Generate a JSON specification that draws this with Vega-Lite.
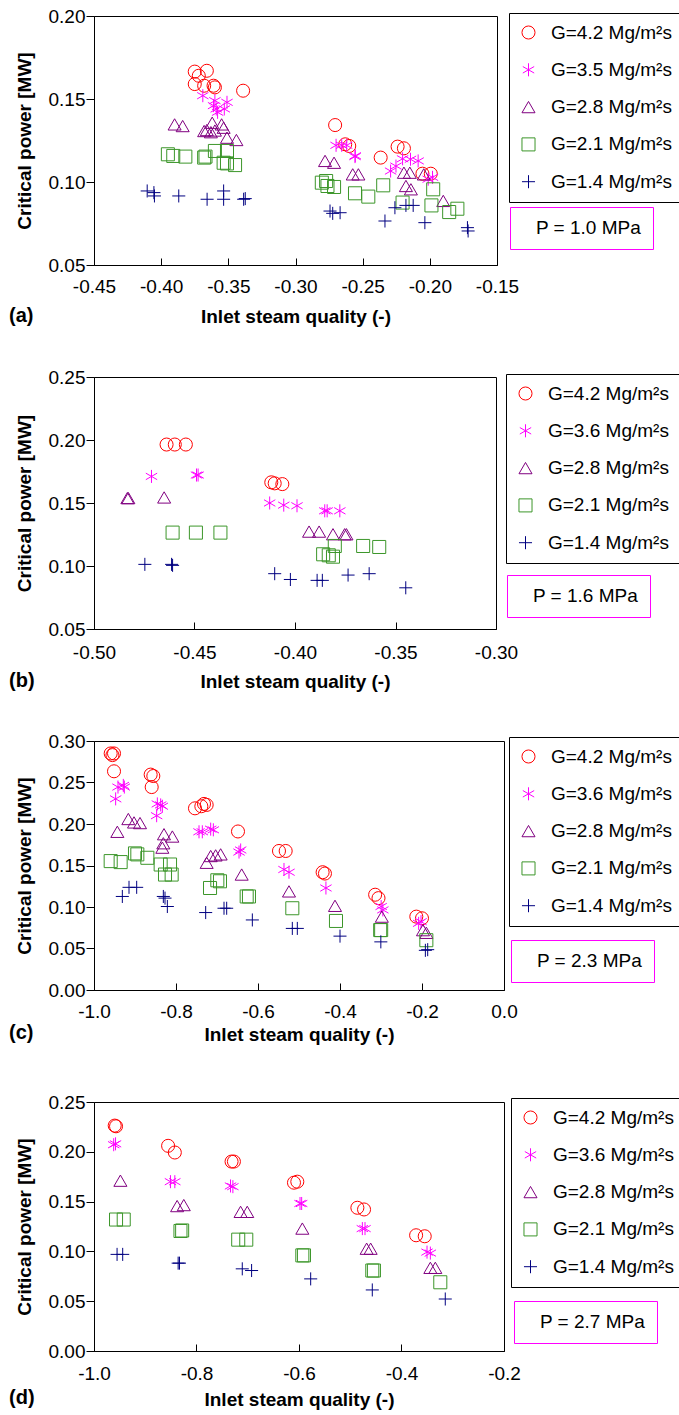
{
  "$schema": "https://vega.github.io/schema/vega-lite/v6.json",
  "padding": {"left": 8, "top": 6, "right": 0, "bottom": 4},
  "bounds": "flush",
  "spacing": 112,
  "resolve": {
    "scale": {"x": "independent", "y": "independent", "color": "independent", "shape": "independent", "opacity": "independent"},
    "legend": {"color": "independent", "shape": "independent", "opacity": "independent"}
  },
  "datasets": {
    "a": [
      {"G":"4.2","x":-0.375,"cp":0.1665},{"G":"4.2","x":-0.372,"cp":0.164},{"G":"4.2","x":-0.366,"cp":0.167},{"G":"4.2","x":-0.375,"cp":0.159},{"G":"4.2","x":-0.368,"cp":0.158},{"G":"4.2","x":-0.361,"cp":0.158},{"G":"4.2","x":-0.36,"cp":0.157},{"G":"4.2","x":-0.339,"cp":0.155},{"G":"4.2","x":-0.2705,"cp":0.1343},{"G":"4.2","x":-0.263,"cp":0.1227},{"G":"4.2","x":-0.26,"cp":0.1217},{"G":"4.2","x":-0.2366,"cp":0.1147},{"G":"4.2","x":-0.224,"cp":0.1213},{"G":"4.2","x":-0.2193,"cp":0.1203},{"G":"4.2","x":-0.2055,"cp":0.105},{"G":"4.2","x":-0.1993,"cp":0.105},
      {"G":"3.5","x":-0.369,"cp":0.152},{"G":"3.5","x":-0.36,"cp":0.149},{"G":"3.5","x":-0.359,"cp":0.144},{"G":"3.5","x":-0.361,"cp":0.146},{"G":"3.5","x":-0.358,"cp":0.142},{"G":"3.5","x":-0.351,"cp":0.148},{"G":"3.5","x":-0.353,"cp":0.144},{"G":"3.5","x":-0.2698,"cp":0.1221},{"G":"3.5","x":-0.2656,"cp":0.1221},{"G":"3.5","x":-0.2619,"cp":0.1221},{"G":"3.5","x":-0.2557,"cp":0.1153},{"G":"3.5","x":-0.2555,"cp":0.1158},{"G":"3.5","x":-0.2292,"cp":0.1066},{"G":"3.5","x":-0.2252,"cp":0.1096},{"G":"3.5","x":-0.2203,"cp":0.114},{"G":"3.5","x":-0.2144,"cp":0.1137},{"G":"3.5","x":-0.2087,"cp":0.1127},{"G":"3.5","x":-0.2012,"cp":0.1017},{"G":"3.5","x":-0.198,"cp":0.1028},
      {"G":"2.8","x":-0.39,"cp":0.1347},{"G":"2.8","x":-0.384,"cp":0.1337},{"G":"2.8","x":-0.368,"cp":0.1307},{"G":"2.8","x":-0.366,"cp":0.1313},{"G":"2.8","x":-0.363,"cp":0.13},{"G":"2.8","x":-0.36,"cp":0.131},{"G":"2.8","x":-0.362,"cp":0.1357},{"G":"2.8","x":-0.355,"cp":0.1347},{"G":"2.8","x":-0.3535,"cp":0.1327},{"G":"2.8","x":-0.351,"cp":0.1267},{"G":"2.8","x":-0.344,"cp":0.1253},{"G":"2.8","x":-0.278,"cp":0.1127},{"G":"2.8","x":-0.2713,"cp":0.1116},{"G":"2.8","x":-0.2574,"cp":0.1046},{"G":"2.8","x":-0.2532,"cp":0.1046},{"G":"2.8","x":-0.2193,"cp":0.1056},{"G":"2.8","x":-0.2149,"cp":0.1056},{"G":"2.8","x":-0.2178,"cp":0.0976},{"G":"2.8","x":-0.2141,"cp":0.0956},{"G":"2.8","x":-0.19,"cp":0.0886},{"G":"2.8","x":-0.2045,"cp":0.1046},
      {"G":"2.1","x":-0.395,"cp":0.1167},{"G":"2.1","x":-0.391,"cp":0.1157},{"G":"2.1","x":-0.382,"cp":0.1153},{"G":"2.1","x":-0.368,"cp":0.1147},{"G":"2.1","x":-0.367,"cp":0.1153},{"G":"2.1","x":-0.36,"cp":0.1187},{"G":"2.1","x":-0.351,"cp":0.1187},{"G":"2.1","x":-0.3535,"cp":0.1116},{"G":"2.1","x":-0.351,"cp":0.1112},{"G":"2.1","x":-0.345,"cp":0.1102},{"G":"2.1","x":-0.2804,"cp":0.0996},{"G":"2.1","x":-0.2772,"cp":0.1006},{"G":"2.1","x":-0.2762,"cp":0.0976},{"G":"2.1","x":-0.2713,"cp":0.097},{"G":"2.1","x":-0.2557,"cp":0.0932},{"G":"2.1","x":-0.2458,"cp":0.0912},{"G":"2.1","x":-0.2347,"cp":0.098},{"G":"2.1","x":-0.2203,"cp":0.0876},{"G":"2.1","x":-0.1988,"cp":0.0859},{"G":"2.1","x":-0.1975,"cp":0.0956},{"G":"2.1","x":-0.1856,"cp":0.0819},{"G":"2.1","x":-0.1795,"cp":0.0839},
      {"G":"1.4","x":-0.4104,"cp":0.0946},{"G":"1.4","x":-0.4054,"cp":0.0936},{"G":"1.4","x":-0.405,"cp":0.0916},{"G":"1.4","x":-0.3869,"cp":0.0916},{"G":"1.4","x":-0.3658,"cp":0.0896},{"G":"1.4","x":-0.3535,"cp":0.0946},{"G":"1.4","x":-0.3535,"cp":0.0896},{"G":"1.4","x":-0.3386,"cp":0.0896},{"G":"1.4","x":-0.3374,"cp":0.09},{"G":"1.4","x":-0.2743,"cp":0.0825},{"G":"1.4","x":-0.2723,"cp":0.0811},{"G":"1.4","x":-0.2668,"cp":0.0815},{"G":"1.4","x":-0.2334,"cp":0.0765},{"G":"1.4","x":-0.226,"cp":0.0845},{"G":"1.4","x":-0.2178,"cp":0.0859},{"G":"1.4","x":-0.2124,"cp":0.0859},{"G":"1.4","x":-0.2037,"cp":0.0755},{"G":"1.4","x":-0.172,"cp":0.0725},{"G":"1.4","x":-0.1715,"cp":0.0705}
    ],
    "b": [
      {"G":"4.2","x":-0.4639,"cp":0.1964},{"G":"4.2","x":-0.4598,"cp":0.1964},{"G":"4.2","x":-0.4543,"cp":0.1964},{"G":"4.2","x":-0.4118,"cp":0.1664},{"G":"4.2","x":-0.4101,"cp":0.1656},{"G":"4.2","x":-0.4063,"cp":0.165},
      {"G":"3.6","x":-0.4714,"cp":0.1711},{"G":"3.6","x":-0.449,"cp":0.1722},{"G":"3.6","x":-0.4482,"cp":0.1722},{"G":"3.6","x":-0.4126,"cp":0.15},{"G":"3.6","x":-0.4056,"cp":0.1483},{"G":"3.6","x":-0.399,"cp":0.1478},{"G":"3.6","x":-0.3852,"cp":0.1438},{"G":"3.6","x":-0.384,"cp":0.1438},{"G":"3.6","x":-0.3777,"cp":0.1438},
      {"G":"2.8","x":-0.4834,"cp":0.1539},{"G":"2.8","x":-0.4829,"cp":0.1539},{"G":"2.8","x":-0.4651,"cp":0.1544},{"G":"2.8","x":-0.393,"cp":0.1273},{"G":"2.8","x":-0.388,"cp":0.1273},{"G":"2.8","x":-0.3811,"cp":0.1252},{"G":"2.8","x":-0.3744,"cp":0.1252},{"G":"2.8","x":-0.3753,"cp":0.1252},
      {"G":"2.1","x":-0.4609,"cp":0.1265},{"G":"2.1","x":-0.4493,"cp":0.1265},{"G":"2.1","x":-0.4371,"cp":0.1265},{"G":"2.1","x":-0.386,"cp":0.1093},{"G":"2.1","x":-0.3832,"cp":0.1085},{"G":"2.1","x":-0.3811,"cp":0.1074},{"G":"2.1","x":-0.3802,"cp":0.1159},{"G":"2.1","x":-0.3661,"cp":0.1159},{"G":"2.1","x":-0.3581,"cp":0.1151},
      {"G":"1.4","x":-0.4747,"cp":0.1013},{"G":"1.4","x":-0.4614,"cp":0.1013},{"G":"1.4","x":-0.4609,"cp":0.1005},{"G":"1.4","x":-0.4101,"cp":0.0939},{"G":"1.4","x":-0.4023,"cp":0.0893},{"G":"1.4","x":-0.389,"cp":0.0886},{"G":"1.4","x":-0.3864,"cp":0.0886},{"G":"1.4","x":-0.3736,"cp":0.0928},{"G":"1.4","x":-0.3631,"cp":0.0939},{"G":"1.4","x":-0.3449,"cp":0.0827}
    ],
    "c": [
      {"G":"4.2","x":-0.9593,"cp":0.285},{"G":"4.2","x":-0.9512,"cp":0.285},{"G":"4.2","x":-0.955,"cp":0.283},{"G":"4.2","x":-0.9512,"cp":0.2635},{"G":"4.2","x":-0.8618,"cp":0.2595},{"G":"4.2","x":-0.8553,"cp":0.2578},{"G":"4.2","x":-0.8593,"cp":0.2445},{"G":"4.2","x":-0.7537,"cp":0.2189},{"G":"4.2","x":-0.7382,"cp":0.2214},{"G":"4.2","x":-0.7317,"cp":0.2242},{"G":"4.2","x":-0.7252,"cp":0.223},{"G":"4.2","x":-0.6488,"cp":0.191},{"G":"4.2","x":-0.5488,"cp":0.1675},{"G":"4.2","x":-0.5325,"cp":0.1675},{"G":"4.2","x":-0.4424,"cp":0.1419},{"G":"4.2","x":-0.4367,"cp":0.1403},{"G":"4.2","x":-0.3143,"cp":0.1148},{"G":"4.2","x":-0.3061,"cp":0.1107},{"G":"4.2","x":-0.2139,"cp":0.0884},{"G":"4.2","x":-0.2,"cp":0.0864},
      {"G":"3.6","x":-0.9472,"cp":0.2303},{"G":"3.6","x":-0.9415,"cp":0.2445},{"G":"3.6","x":-0.9285,"cp":0.2465},{"G":"3.6","x":-0.926,"cp":0.2445},{"G":"3.6","x":-0.8455,"cp":0.2242},{"G":"3.6","x":-0.8374,"cp":0.223},{"G":"3.6","x":-0.8472,"cp":0.21},{"G":"3.6","x":-0.8333,"cp":0.2214},{"G":"3.6","x":-0.7439,"cp":0.1906},{"G":"3.6","x":-0.7358,"cp":0.1906},{"G":"3.6","x":-0.7154,"cp":0.1938},{"G":"3.6","x":-0.7089,"cp":0.193},{"G":"3.6","x":-0.6423,"cp":0.1687},{"G":"3.6","x":-0.6463,"cp":0.1662},{"G":"3.6","x":-0.5366,"cp":0.1452},{"G":"3.6","x":-0.5244,"cp":0.1419},{"G":"3.6","x":-0.4343,"cp":0.1229},{"G":"3.6","x":-0.2996,"cp":0.1006},{"G":"3.6","x":-0.2955,"cp":0.0965},{"G":"3.6","x":-0.2082,"cp":0.0803},{"G":"3.6","x":-0.2024,"cp":0.0823},
      {"G":"2.8","x":-0.9431,"cp":0.1906},{"G":"2.8","x":-0.9163,"cp":0.206},{"G":"2.8","x":-0.9024,"cp":0.2019},{"G":"2.8","x":-0.8878,"cp":0.2011},{"G":"2.8","x":-0.8293,"cp":0.1877},{"G":"2.8","x":-0.8089,"cp":0.1849},{"G":"2.8","x":-0.8333,"cp":0.1715},{"G":"2.8","x":-0.8309,"cp":0.1768},{"G":"2.8","x":-0.7252,"cp":0.1533},{"G":"2.8","x":-0.7154,"cp":0.1614},{"G":"2.8","x":-0.7033,"cp":0.1622},{"G":"2.8","x":-0.6911,"cp":0.1634},{"G":"2.8","x":-0.6398,"cp":0.1391},{"G":"2.8","x":-0.5244,"cp":0.1188},{"G":"2.8","x":-0.4122,"cp":0.1014},{"G":"2.8","x":-0.298,"cp":0.0884},{"G":"2.8","x":-0.1976,"cp":0.0721},{"G":"2.8","x":-0.1894,"cp":0.0689},
      {"G":"2.1","x":-0.9593,"cp":0.1553},{"G":"2.1","x":-0.935,"cp":0.1541},{"G":"2.1","x":-0.9,"cp":0.1646},{"G":"2.1","x":-0.8943,"cp":0.1634},{"G":"2.1","x":-0.8699,"cp":0.1593},{"G":"2.1","x":-0.8374,"cp":0.1512},{"G":"2.1","x":-0.8146,"cp":0.1512},{"G":"2.1","x":-0.8268,"cp":0.1391},{"G":"2.1","x":-0.8106,"cp":0.1391},{"G":"2.1","x":-0.717,"cp":0.1229},{"G":"2.1","x":-0.6992,"cp":0.1322},{"G":"2.1","x":-0.6927,"cp":0.131},{"G":"2.1","x":-0.6276,"cp":0.1127},{"G":"2.1","x":-0.622,"cp":0.1127},{"G":"2.1","x":-0.5163,"cp":0.0985},{"G":"2.1","x":-0.4098,"cp":0.0832},{"G":"2.1","x":-0.302,"cp":0.0722},{"G":"2.1","x":-0.2996,"cp":0.0722},{"G":"2.1","x":-0.1894,"cp":0.06},
      {"G":"1.4","x":-0.9309,"cp":0.1127},{"G":"1.4","x":-0.9146,"cp":0.1237},{"G":"1.4","x":-0.8959,"cp":0.1237},{"G":"1.4","x":-0.8309,"cp":0.1127},{"G":"1.4","x":-0.8211,"cp":0.1006},{"G":"1.4","x":-0.8268,"cp":0.1107},{"G":"1.4","x":-0.7276,"cp":0.0933},{"G":"1.4","x":-0.6829,"cp":0.0985},{"G":"1.4","x":-0.6764,"cp":0.0985},{"G":"1.4","x":-0.6138,"cp":0.0844},{"G":"1.4","x":-0.5163,"cp":0.0742},{"G":"1.4","x":-0.5041,"cp":0.0742},{"G":"1.4","x":-0.4,"cp":0.0649},{"G":"1.4","x":-0.3004,"cp":0.058},{"G":"1.4","x":-0.1918,"cp":0.0478},{"G":"1.4","x":-0.1861,"cp":0.0486}
    ],
    "d": [
      {"G":"4.2","x":-0.9596,"cp":0.2263},{"G":"4.2","x":-0.957,"cp":0.2256},{"G":"4.2","x":-0.8554,"cp":0.206},{"G":"4.2","x":-0.8423,"cp":0.1993},{"G":"4.2","x":-0.7316,"cp":0.1902},{"G":"4.2","x":-0.727,"cp":0.1902},{"G":"4.2","x":-0.6098,"cp":0.169},{"G":"4.2","x":-0.6033,"cp":0.17},{"G":"4.2","x":-0.4861,"cp":0.1438},{"G":"4.2","x":-0.4731,"cp":0.1421},{"G":"4.2","x":-0.3715,"cp":0.1162},{"G":"4.2","x":-0.3547,"cp":0.1152},
      {"G":"3.6","x":-0.9616,"cp":0.2071},{"G":"3.6","x":-0.958,"cp":0.208},{"G":"3.6","x":-0.8508,"cp":0.17},{"G":"3.6","x":-0.8423,"cp":0.17},{"G":"3.6","x":-0.7336,"cp":0.1657},{"G":"3.6","x":-0.729,"cp":0.165},{"G":"3.6","x":-0.5948,"cp":0.1481},{"G":"3.6","x":-0.598,"cp":0.1481},{"G":"3.6","x":-0.4764,"cp":0.1229},{"G":"3.6","x":-0.4712,"cp":0.1229},{"G":"3.6","x":-0.3502,"cp":0.0993},{"G":"3.6","x":-0.3437,"cp":0.0983},
      {"G":"2.8","x":-0.9485,"cp":0.171},{"G":"2.8","x":-0.8378,"cp":0.1455},{"G":"2.8","x":-0.8248,"cp":0.1465},{"G":"2.8","x":-0.714,"cp":0.1397},{"G":"2.8","x":-0.701,"cp":0.1397},{"G":"2.8","x":-0.5935,"cp":0.1229},{"G":"2.8","x":-0.468,"cp":0.1027},{"G":"2.8","x":-0.4602,"cp":0.1027},{"G":"2.8","x":-0.3437,"cp":0.0835},{"G":"2.8","x":-0.334,"cp":0.0835},
      {"G":"2.1","x":-0.957,"cp":0.132},{"G":"2.1","x":-0.942,"cp":0.132},{"G":"2.1","x":-0.8313,"cp":0.1205},{"G":"2.1","x":-0.828,"cp":0.121},{"G":"2.1","x":-0.7186,"cp":0.1118},{"G":"2.1","x":-0.7029,"cp":0.1118},{"G":"2.1","x":-0.5935,"cp":0.096},{"G":"2.1","x":-0.5903,"cp":0.096},{"G":"2.1","x":-0.457,"cp":0.0808},{"G":"2.1","x":-0.4538,"cp":0.0808},{"G":"2.1","x":-0.3243,"cp":0.069},
      {"G":"1.4","x":-0.955,"cp":0.097},{"G":"1.4","x":-0.944,"cp":0.097},{"G":"1.4","x":-0.8358,"cp":0.0882},{"G":"1.4","x":-0.8332,"cp":0.0882},{"G":"1.4","x":-0.7107,"cp":0.0825},{"G":"1.4","x":-0.6925,"cp":0.0808},{"G":"1.4","x":-0.5772,"cp":0.0724},{"G":"1.4","x":-0.457,"cp":0.0613},{"G":"1.4","x":-0.3146,"cp":0.0522}
    ],
    "pa": [{"P": "P = 1.0 MPa"}],
    "pb": [{"P": "P = 1.6 MPa"}],
    "pc": [{"P": "P = 2.3 MPa"}],
    "pd": [{"P": "P = 2.7 MPa"}]
  },
  "vconcat": [
    {
      "width": 403, "height": 249,
      "title": {"text": "(a)", "orient": "bottom", "anchor": "start", "frame": "bounds", "offset": -21, "dx": -6},
      "layer": [
        {
          "data": {"name": "a"},
          "mark": {"type": "point", "filled": false, "size": 170, "strokeWidth": 1, "opacity": 1},
          "encoding": {
            "x": {"field": "x", "type": "quantitative", "scale": {"domain": [-0.45, -0.15], "nice": false, "zero": false},
                  "axis": {"values": [-0.45, -0.4, -0.35, -0.3, -0.25, -0.2, -0.15], "format": ".2f", "title": "Inlet steam quality (-)", "titlePadding": 11}},
            "y": {"field": "cp", "type": "quantitative", "scale": {"domain": [0.05, 0.2], "nice": false, "zero": false},
                  "axis": {"values": [0.05, 0.1, 0.15, 0.2], "format": ".2f", "title": "Critical power [MW]"}},
            "color": {"field": "G", "type": "nominal",
                      "scale": {"domain": ["4.2", "3.5", "2.8", "2.1", "1.4"], "range": ["#ff0000", "#ff00ff", "#800080", "#3c962a", "#000080"]},
                      "legend": {"title": null, "orient": "none", "legendX": 415, "legendY": -3, "labelExpr": "'G=' + datum.label + ' Mg/m²s'"}},
            "shape": {"field": "G", "type": "nominal",
                      "scale": {"domain": ["4.2", "3.5", "2.8", "2.1", "1.4"], "range": ["circle", "M0,-1L0,1M-0.87,-0.5L0.87,0.5M-0.87,0.5L0.87,-0.5", "triangle-up", "square", "M-1,0L1,0M0,-1L0,1"]}}
          }
        },
        {
          "data": {"name": "pa"},
          "mark": {"type": "point", "size": 0, "strokeWidth": 0, "filled": false},
          "encoding": {
            "opacity": {"field": "P", "type": "nominal", "scale": {"range": [1]},
                        "legend": {"title": null, "orient": "none", "legendX": 416, "legendY": 191, "strokeColor": "#ff00ff", "padding": 11, "symbolSize": 0.5, "symbolOpacity": 0, "symbolStrokeWidth": 0, "labelOffset": -4, "labelExpr": "datum.label + '\u2002'"}}
          }
        }
      ]
    },
    {
      "width": 402, "height": 252,
      "title": {"text": "(b)", "orient": "bottom", "anchor": "start", "frame": "bounds", "offset": -21, "dx": -6},
      "layer": [
        {
          "data": {"name": "b"},
          "mark": {"type": "point", "filled": false, "size": 170, "strokeWidth": 1, "opacity": 1},
          "encoding": {
            "x": {"field": "x", "type": "quantitative", "scale": {"domain": [-0.5, -0.3], "nice": false, "zero": false},
                  "axis": {"values": [-0.5, -0.45, -0.4, -0.35, -0.3], "format": ".2f", "title": "Inlet steam quality (-)", "titlePadding": 10.6, "labelPadding": 21.3}},
            "y": {"field": "cp", "type": "quantitative", "scale": {"domain": [0.05, 0.25], "nice": false, "zero": false},
                  "axis": {"values": [0.05, 0.1, 0.15, 0.2, 0.25], "format": ".2f", "title": "Critical power [MW]"}},
            "color": {"field": "G", "type": "nominal",
                      "scale": {"domain": ["4.2", "3.6", "2.8", "2.1", "1.4"], "range": ["#ff0000", "#ff00ff", "#800080", "#3c962a", "#000080"]},
                      "legend": {"title": null, "orient": "none", "legendX": 412, "legendY": -3, "labelExpr": "'G=' + datum.label + ' Mg/m²s'"}},
            "shape": {"field": "G", "type": "nominal",
                      "scale": {"domain": ["4.2", "3.6", "2.8", "2.1", "1.4"], "range": ["circle", "M0,-1L0,1M-0.87,-0.5L0.87,0.5M-0.87,0.5L0.87,-0.5", "triangle-up", "square", "M-1,0L1,0M0,-1L0,1"]}}
          }
        },
        {
          "data": {"name": "pb"},
          "mark": {"type": "point", "size": 0, "strokeWidth": 0, "filled": false},
          "encoding": {
            "opacity": {"field": "P", "type": "nominal", "scale": {"range": [1]},
                        "legend": {"title": null, "orient": "none", "legendX": 413, "legendY": 198, "strokeColor": "#ff00ff", "padding": 11, "symbolSize": 0.5, "symbolOpacity": 0, "symbolStrokeWidth": 0, "labelOffset": -4, "labelExpr": "datum.label + '\u2002'"}}
          }
        }
      ]
    },
    {
      "width": 410, "height": 249,
      "title": {"text": "(c)", "orient": "bottom", "anchor": "start", "frame": "bounds", "offset": -21, "dx": -6},
      "layer": [
        {
          "data": {"name": "c"},
          "mark": {"type": "point", "filled": false, "size": 170, "strokeWidth": 1, "opacity": 1},
          "encoding": {
            "x": {"field": "x", "type": "quantitative", "scale": {"domain": [-1, 0], "nice": false, "zero": false},
                  "axis": {"values": [-1, -0.8, -0.6, -0.4, -0.2, 0], "format": ".1f", "title": "Inlet steam quality (-)", "titlePadding": 3.6}},
            "y": {"field": "cp", "type": "quantitative", "scale": {"domain": [0, 0.3], "nice": false, "zero": false},
                  "axis": {"values": [0, 0.05, 0.1, 0.15, 0.2, 0.25, 0.3], "format": ".2f", "title": "Critical power [MW]"}},
            "color": {"field": "G", "type": "nominal",
                      "scale": {"domain": ["4.2", "3.6", "2.8", "2.1", "1.4"], "range": ["#ff0000", "#ff00ff", "#800080", "#3c962a", "#000080"]},
                      "legend": {"title": null, "orient": "none", "legendX": 415, "legendY": -4, "labelExpr": "'G=' + datum.label + ' Mg/m²s'"}},
            "shape": {"field": "G", "type": "nominal",
                      "scale": {"domain": ["4.2", "3.6", "2.8", "2.1", "1.4"], "range": ["circle", "M0,-1L0,1M-0.87,-0.5L0.87,0.5M-0.87,0.5L0.87,-0.5", "triangle-up", "square", "M-1,0L1,0M0,-1L0,1"]}}
          }
        },
        {
          "data": {"name": "pc"},
          "mark": {"type": "point", "size": 0, "strokeWidth": 0, "filled": false},
          "encoding": {
            "opacity": {"field": "P", "type": "nominal", "scale": {"range": [1]},
                        "legend": {"title": null, "orient": "none", "legendX": 417, "legendY": 199, "strokeColor": "#ff00ff", "padding": 11, "symbolSize": 0.5, "symbolOpacity": 0, "symbolStrokeWidth": 0, "labelOffset": -4, "labelExpr": "datum.label + '\u2002'"}}
          }
        }
      ]
    },
    {
      "width": 410, "height": 249,
      "title": {"text": "(d)", "orient": "bottom", "anchor": "start", "frame": "bounds", "offset": -21, "dx": -6},
      "layer": [
        {
          "data": {"name": "d"},
          "mark": {"type": "point", "filled": false, "size": 170, "strokeWidth": 1, "opacity": 1},
          "encoding": {
            "x": {"field": "x", "type": "quantitative", "scale": {"domain": [-1, -0.2], "nice": false, "zero": false},
                  "axis": {"values": [-1, -0.8, -0.6, -0.4, -0.2], "format": ".1f", "title": "Inlet steam quality (-)", "titlePadding": 6.6, "labelPadding": 20.6}},
            "y": {"field": "cp", "type": "quantitative", "scale": {"domain": [0, 0.25], "nice": false, "zero": false},
                  "axis": {"values": [0, 0.05, 0.1, 0.15, 0.2, 0.25], "format": ".2f", "title": "Critical power [MW]"}},
            "color": {"field": "G", "type": "nominal",
                      "scale": {"domain": ["4.2", "3.6", "2.8", "2.1", "1.4"], "range": ["#ff0000", "#ff00ff", "#800080", "#3c962a", "#000080"]},
                      "legend": {"title": null, "orient": "none", "legendX": 417, "legendY": -4, "labelExpr": "'G=' + datum.label + ' Mg/m²s'"}},
            "shape": {"field": "G", "type": "nominal",
                      "scale": {"domain": ["4.2", "3.6", "2.8", "2.1", "1.4"], "range": ["circle", "M0,-1L0,1M-0.87,-0.5L0.87,0.5M-0.87,0.5L0.87,-0.5", "triangle-up", "square", "M-1,0L1,0M0,-1L0,1"]}}
          }
        },
        {
          "data": {"name": "pd"},
          "mark": {"type": "point", "size": 0, "strokeWidth": 0, "filled": false},
          "encoding": {
            "opacity": {"field": "P", "type": "nominal", "scale": {"range": [1]},
                        "legend": {"title": null, "orient": "none", "legendX": 420, "legendY": 199, "strokeColor": "#ff00ff", "padding": 11, "symbolSize": 0.5, "symbolOpacity": 0, "symbolStrokeWidth": 0, "labelOffset": -4, "labelExpr": "datum.label + '\u2002'"}}
          }
        }
      ]
    }
  ],
  "config": {
    "font": "Liberation Sans",
    "locale": {"number": {"decimal": ".", "thousands": ",", "grouping": [3], "currency": ["$", ""], "minus": "-"}},
    "view": {"stroke": "#000", "strokeWidth": 1},
    "title": {"fontSize": 20, "fontWeight": "bold", "color": "#000", "font": "Liberation Sans"},
    "axis": {"grid": false, "domainColor": "#000", "tickColor": "#000", "labelColor": "#000", "titleColor": "#000",
             "labelFontSize": 19, "titleFontSize": 19, "titleFontWeight": "bold", "labelFont": "Liberation Sans", "titleFont": "Liberation Sans",
             "labelFlush": false, "labelOverlap": false, "domainWidth": 1, "tickWidth": 1},
    "axisX": {"tickSize": -7, "labelPadding": 19.6},
    "axisY": {"tickSize": 8, "labelPadding": 1, "titlePadding": 14},
    "legend": {"labelFontSize": 19, "labelColor": "#000", "labelFont": "Liberation Sans", "strokeColor": "#000", "padding": 10, "rowPadding": 17.3,
               "labelOffset": 13, "symbolSize": 170, "symbolStrokeWidth": 1, "labelLimit": 300}
  }
}
